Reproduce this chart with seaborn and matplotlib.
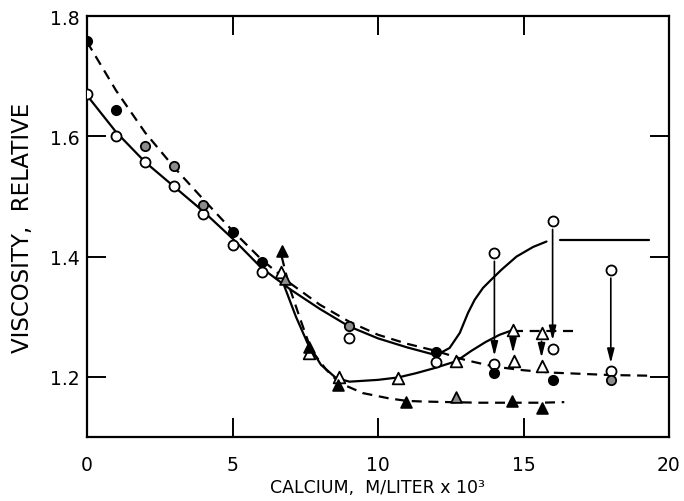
import matplotlib
matplotlib.use("Agg")
import matplotlib.pyplot as plt
import seaborn as sns
import pandas as pd

# measured points (calcium, relative viscosity)
open_circle_x = [0, 1, 2, 3, 4, 5, 6, 9, 12, 14, 14, 16, 16, 18, 18]
open_circle_y = [1.67, 1.60, 1.557, 1.517, 1.47, 1.42, 1.374, 1.264, 1.224,
                 1.406, 1.221, 1.459, 1.247, 1.378, 1.209]
filled_circle_x = [0, 1, 5, 6, 12, 14, 16]
filled_circle_y = [1.759, 1.643, 1.441, 1.391, 1.242, 1.207, 1.195]
hatched_circle_x = [2, 3, 4, 9, 18]
hatched_circle_y = [1.584, 1.55, 1.485, 1.284, 1.195]

open_tri_x = [6.67, 7.64, 8.67, 10.69, 12.69, 14.64, 14.68, 15.62, 15.64]
open_tri_y = [1.374, 1.239, 1.2, 1.198, 1.226, 1.278, 1.226, 1.273, 1.218]
filled_tri_x = [6.69, 7.64, 8.62, 10.97, 14.6, 15.64]
filled_tri_y = [1.409, 1.25, 1.187, 1.158, 1.16, 1.148]
hatched_tri_x = [6.8, 12.69]
hatched_tri_y = [1.362, 1.167]

# arrows: value before -> value after
arrow_x = [14.0, 16.0, 18.0, 14.64, 15.62]
arrow_from = [1.406, 1.459, 1.378, 1.278, 1.273]
arrow_to = [1.221, 1.247, 1.209, 1.226, 1.218]

# curves
solid_circle_x = [0, 1, 2, 3, 4, 5, 6, 7, 8, 9, 10, 11, 12, 12.46, 12.81,
                  13.09, 13.32, 13.61, 13.9, 14.24, 14.76, 15.33, 15.79]
solid_circle_y = [1.668, 1.607, 1.557, 1.516, 1.475, 1.430, 1.381, 1.345,
                  1.313, 1.284, 1.264, 1.249, 1.236, 1.248, 1.273, 1.306,
                  1.328, 1.348, 1.362, 1.378, 1.40, 1.416, 1.425]
plateau_x = [16.25, 19.3]
plateau_y = [1.428, 1.428]

dashed_circle_x = [0, 1, 2, 3, 4, 5, 6, 7, 8, 9, 10, 11, 12, 13, 14, 15,
                   16, 17, 18, 19.25]
dashed_circle_y = [1.757, 1.676, 1.606, 1.548, 1.495, 1.443, 1.395, 1.355,
                   1.32, 1.292, 1.27, 1.255, 1.243, 1.228, 1.217, 1.211,
                   1.207, 1.205, 1.203, 1.202]

solid_tri_x = [6.78, 7.18, 7.58, 8.04, 8.56, 9.02, 10.0, 10.69, 11.3, 11.9,
               12.69, 13.2, 13.7, 14.18, 14.64]
solid_tri_y = [1.351, 1.30, 1.256, 1.22, 1.198, 1.192, 1.195, 1.199, 1.206,
               1.214, 1.226, 1.243, 1.258, 1.27, 1.278]
tri_plateau_x = [14.64, 16.7]
tri_plateau_y = [1.277, 1.277]

dashed_tri_x = [6.69, 6.95, 7.3, 7.7, 8.22, 8.67, 9.48, 10.4, 11.0, 11.54,
                12.46, 13.5, 14.6, 15.6, 16.4]
dashed_tri_y = [1.40, 1.35, 1.30, 1.245, 1.212, 1.19, 1.173, 1.164, 1.16,
                1.159, 1.158, 1.157, 1.157, 1.157, 1.158]

sns.set_theme(style="ticks")
plt.rcParams["font.family"] = ["DejaVu Sans"]

fig = plt.figure(figsize=(6.84, 5.02), dpi=100)
ax = fig.add_axes([87 / 684, 1 - 438 / 502, 582 / 684, 421 / 502])

lw = 1.6
dash = (4.5, 3)


def curve(x, y, dashed=False):
    df = pd.DataFrame({"x": x, "y": y})
    line = sns.lineplot(data=df, x="x", y="y", ax=ax, color="black", lw=lw,
                        sort=False, estimator=None, zorder=2)
    if dashed:
        line.lines[-1].set_dashes(dash)


curve(solid_circle_x, solid_circle_y)
curve(plateau_x, plateau_y)
curve(dashed_circle_x, dashed_circle_y, dashed=True)
curve(solid_tri_x, solid_tri_y)
curve(tri_plateau_x, tri_plateau_y, dashed=True)
curve(dashed_tri_x, dashed_tri_y, dashed=True)

for x0, y0, y1 in zip(arrow_x, arrow_from, arrow_to):
    ax.annotate("", xy=(x0, y1), xytext=(x0, y0), zorder=3,
                arrowprops=dict(arrowstyle="-|>,head_width=0.18,head_length=0.7",
                                color="black", lw=1.2, shrinkA=6, shrinkB=6))


def points(x, y, marker, face, size):
    sns.scatterplot(x=x, y=y, ax=ax, marker=marker, s=size, color=face,
                    edgecolor="black", linewidth=1.3, zorder=4)


points(open_circle_x, open_circle_y, "o", "white", 52)
points(filled_circle_x, filled_circle_y, "o", "black", 45)
points(hatched_circle_x, hatched_circle_y, "o", "0.55", 45)
points(open_tri_x, open_tri_y, "^", "white", 70)
points(filled_tri_x, filled_tri_y, "^", "black", 60)
points(hatched_tri_x, hatched_tri_y, "^", "0.55", 60)

ax.set_xlim(0, 20)
ax.set_ylim(1.1, 1.8)
ax.set_xticks([0, 5, 10, 15, 20])
ax.set_xticklabels(["0", "5", "10", "15", "20"])
ax.set_yticks([1.2, 1.4, 1.6, 1.8])
ax.set_yticklabels(["1.2", "1.4", "1.6", "1.8"])
ax.tick_params(direction="in", length=14, width=1.4, top=True, right=True,
               labelsize=13.5, colors="black")
ax.tick_params(axis="x", pad=13)
ax.tick_params(axis="y", pad=5)
for sp in ax.spines.values():
    sp.set_linewidth(1.6)
    sp.set_color("black")

ax.set_xlabel("CALCIUM,  M/LITER x 10³", fontsize=12.5, labelpad=3,
              color="black")
ax.set_ylabel("VISCOSITY,  RELATIVE", fontsize=16.5, labelpad=12,
              color="black")

fig.savefig("out.png", dpi=100)
